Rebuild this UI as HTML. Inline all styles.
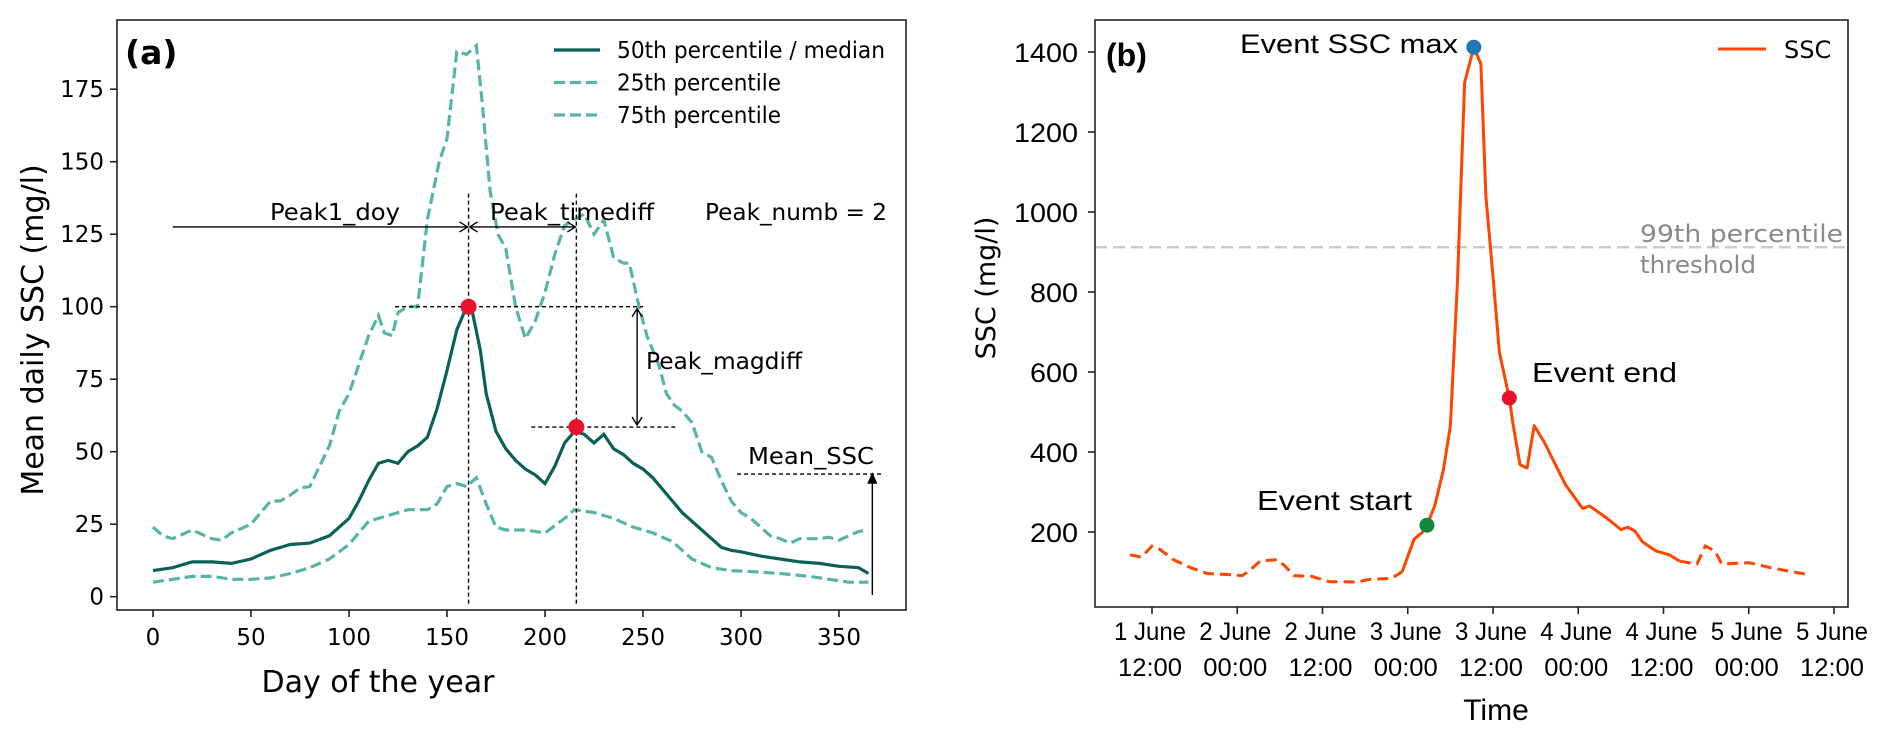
<!DOCTYPE html>
<html><head><meta charset="utf-8"><style>
html,body{margin:0;padding:0;background:#fff;}
svg{display:block;}
.dv{font-family:"DejaVu Sans","Liberation Sans",sans-serif;}
.ls{font-family:"Liberation Sans",sans-serif;}
</style></head><body>
<svg id="fig" width="1892" height="737" viewBox="0 0 1892 737" xmlns="http://www.w3.org/2000/svg">
<g id="pa"></g>
<g id="pb"></g>
</svg>
<script>
// ---------- Panel (a) data ----------
const daysMed = [0,10,20,30,40,50,60,70,80,90,100,105,110,115,120,125,130,135,140,145,150,155,160,163,167,170,175,180,185,190,195,200,205,210,215,220,225,230,235,240,245,250,255,260,265,270,275,280,285,290,295,300,310,320,330,340,350,360,365];
const medVals = [9,10,12,12,11.5,13,16,18,18.5,21,27,33,40,46,47,46,50,52,55,65,78,92,100,98,85,70,57,51,47,44,42,39,45,53,57,56,53,56,51,49,46,44,41,37,33,29,26,23,20,17,16,15.5,14,13,12,11.5,10.5,10,8];
const daysP75 = [0,5,10,20,30,35,40,50,60,65,70,75,80,85,90,95,100,105,110,115,118,122,125,130,135,140,143,146,150,155,160,165,168,172,176,180,185,190,195,200,205,210,215,220,225,230,235,240,243,248,252,258,262,266,270,275,280,285,290,295,300,305,310,315,320,325,330,340,345,350,355,360,365];
const p75Vals = [24,21,20,23,20,19.5,22,25,33,33,35,37.5,38,45,52,64,70,80,90,97,91,90,98,100,100,130,140,150,158,188,187,190,170,140,125,120,100,89,95,105,118,128,130,132,125,130,117,115,115,100,90,80,70,66,64,60,50,48,40,33,29,27,24,21,20,18.5,20,20,20.5,19.5,21,22.5,23];
const daysP25 = [0,10,20,30,40,50,60,70,80,90,100,110,120,130,140,145,150,155,160,165,170,175,180,190,200,210,215,225,235,245,255,265,275,285,295,310,320,335,345,355,365];
const p25Vals = [5,6,7,7,6,6,6.5,8,10,13,18,26,28,30,30,32,38,39,38,41,32,24,23,23,22,27,30,29,27,24,22,19,13,10,9,8.5,8,7,6,5,5];
const aYTicks = [0,25,50,75,100,125,150,175];
const aXTicks = [0,50,100,150,200,250,300,350];
const peakDays = [161,216];
const peakVals = [100,58.5];
const meanSSC = 42.3;

// ---------- Panel (b) data ----------
const sscHours = [-3.1,-1.5,0,1,3,5.4,7.8,10.3,12.7,13.7,15.2,17.6,18.6,20,22.5,24.9,28.8,30.8,33.7,35.2,36.9,38.1,38.7,39.8,41,42,43,44,45.3,46.3,47,48,48.9,50.3,50.8,51.8,52.8,53.8,55.2,58.2,60.6,61.6,64,66,67,68,69,70.9,72.8,74.3,76.7,77.9,79.2,80.2,84.1,87,89.4,92.2];
const sscVals = [143,137,165,158,131,111,96,94,91,103,127,131,117,91,89,76,75,82,84,100,182,200,217,265,354,466,827,1323,1412,1370,1039,839,649,535,472,368,360,466,425,318,259,265,235,206,212,202,176,153,143,127,120,165,153,120,123,111,103,94];
const bYTicks = [200,400,600,800,1000,1200,1400];
const bXTickHours = [0,12,24,36,48,60,72,84,96];
const bXTickLine1 = ["1 June","2 June","2 June","3 June","3 June","4 June","4 June","5 June","5 June"];
const bXTickLine2 = ["12:00","00:00","12:00","00:00","12:00","00:00","12:00","00:00","12:00"];
const eventHours = [38.7,45.3,50.3];
const eventVals = [217,1412,535];
const threshold = 912;
const solidStart = 35.2, solidEnd = 74.3;

const NS="http://www.w3.org/2000/svg";
function mk(parent,tag,attrs,text){const e=document.createElementNS(NS,tag);for(const k in attrs)e.setAttribute(k,attrs[k]);if(text!==undefined)e.textContent=text;parent.appendChild(e);return e;}

// ---------- Panel (a) ----------
const pa=document.getElementById('pa');
const AL=117,AT=20,AR=906,AB=610;
const ax=d=>153+d*1.96;
const ay=v=>596.7-v*2.9;
const path=(xs,ys,fx,fy)=>xs.map((x,i)=>(i?'L':'M')+fx(x).toFixed(1)+' '+fy(ys[i]).toFixed(1)).join(' ');

let e;
e=mk(pa,'path',{d:path(daysP75,p75Vals,ax,ay),fill:'none',stroke:'#56b4a8','stroke-width':3.2,'stroke-dasharray':'11,5'});

e=mk(pa,'path',{d:path(daysP25,p25Vals,ax,ay),fill:'none',stroke:'#56b4a8','stroke-width':3.2,'stroke-dasharray':'11,5'});

e=mk(pa,'path',{d:path(daysMed,medVals,ax,ay),fill:'none',stroke:'#0b6157','stroke-width':3.2});


// annotation lines
const ann=mk(pa,'g',{stroke:'#000','stroke-width':1.4,fill:'none'});

mk(ann,'line',{x1:ax(peakDays[0]),y1:ay(139),x2:ax(peakDays[0]),y2:AB-4,'stroke-dasharray':'4,3'});
mk(ann,'line',{x1:ax(peakDays[1]),y1:ay(139),x2:ax(peakDays[1]),y2:AB-4,'stroke-dasharray':'4,3'});
mk(ann,'line',{x1:ax(123.5),y1:ay(peakVals[0]),x2:ax(250),y2:ay(peakVals[0]),'stroke-dasharray':'4,3'});
mk(ann,'line',{x1:ax(193),y1:ay(peakVals[1]),x2:ax(267),y2:ay(peakVals[1]),'stroke-dasharray':'4,3'});
mk(ann,'line',{x1:ax(298),y1:ay(meanSSC),x2:ax(372),y2:ay(meanSSC),'stroke-dasharray':'4,3'});
function arrowHead(g,x,y,dir){
  const s=8,w=5;let d;
  if(dir==='r')d=`M${x-s} ${y-w} L${x} ${y} L${x-s} ${y+w}`;
  if(dir==='l')d=`M${x+s} ${y-w} L${x} ${y} L${x+s} ${y+w}`;
  if(dir==='u')d=`M${x-w} ${y+s} L${x} ${y} L${x+w} ${y+s}`;
  if(dir==='d')d=`M${x-w} ${y-s} L${x} ${y} L${x+w} ${y-s}`;
  mk(g,'path',{d:d,fill:'none'});
}
const yArr=ay(127.5);
mk(ann,'line',{x1:ax(10),y1:yArr,x2:ax(peakDays[0])-1,y2:yArr});
arrowHead(ann,ax(peakDays[0])-1,yArr,'r');
mk(ann,'line',{x1:ax(peakDays[0])+1,y1:yArr,x2:ax(peakDays[1])-1,y2:yArr});
arrowHead(ann,ax(peakDays[0])+1,yArr,'l');arrowHead(ann,ax(peakDays[1])-1,yArr,'r');
const xm=ax(247);
mk(ann,'line',{x1:xm,y1:ay(peakVals[0])+2,x2:xm,y2:ay(peakVals[1])-2});
arrowHead(ann,xm,ay(peakVals[0])+2,'u');arrowHead(ann,xm,ay(peakVals[1])-2,'d');
const xs=ax(367);
mk(ann,'line',{x1:xs,y1:ay(0.6),x2:xs,y2:ay(meanSSC)});
mk(ann,'path',{d:`M${xs-4} ${ay(meanSSC)+9} L${xs} ${ay(meanSSC)} L${xs+4} ${ay(meanSSC)+9} Z`,fill:'#000'});

peakDays.forEach((d,i)=>{
  const c=mk(pa,'circle',{cx:ax(d),cy:ay(peakVals[i]),r:8,fill:'#e8132b'});
  
  
});

const txtA=[['Peak1_doy',270,220,'peak1-doy-label',130],['Peak_timediff',490,220,'peak-timediff-label',164],['Peak_numb = 2',705,220,'peak-numb-label',182],['Peak_magdiff',646,369,'peak-magdiff-label',156],['Mean_SSC',748,464,'mean-ssc-label',126]];
txtA.forEach(t=>{
  const el=mk(pa,'text',{x:t[1],y:t[2],'font-size':23,class:'dv',fill:'#000',textLength:t[4],lengthAdjust:'spacingAndGlyphs'},t[0]);
  
  
});

// axes a
e=mk(pa,'rect',{x:AL,y:AT,width:AR-AL,height:AB-AT,fill:'none',stroke:'#222','stroke-width':1.6});

aYTicks.forEach(v=>{
  mk(pa,'line',{x1:AL-7,y1:ay(v),x2:AL,y2:ay(v),stroke:'#222','stroke-width':1.6});
  const t=mk(pa,'text',{x:AL-13,y:ay(v)+8,'font-size':23,class:'dv','text-anchor':'end'},String(v));
  
  
});
aXTicks.forEach(v=>{
  mk(pa,'line',{x1:ax(v),y1:AB,x2:ax(v),y2:AB+7,stroke:'#222','stroke-width':1.6});
  const t=mk(pa,'text',{x:ax(v),y:645,'font-size':23,class:'dv','text-anchor':'middle'},String(v));
  
  
});
e=mk(pa,'text',{x:0,y:0,'font-size':30,class:'dv','text-anchor':'middle',transform:'translate(43,330) rotate(-90)'},'Mean daily SSC (mg/l)');

e=mk(pa,'text',{x:378,y:692,'font-size':30,class:'dv','text-anchor':'middle'},'Day of the year');

e=mk(pa,'text',{x:125,y:64,'font-size':33,'font-weight':'bold',class:'dv'},'(a)');

// legend a
const legA=[['50th percentile / median','#0b6157','',268],['25th percentile','#56b4a8','11,5',164],['75th percentile','#56b4a8','11,5',164]];
legA.forEach((l,i)=>{
  const g=mk(pa,'g',{});
  
  
  const y=50+i*32.5;
  mk(g,'line',{x1:554,y1:y,x2:600,y2:y,stroke:l[1],'stroke-width':3.2,'stroke-dasharray':l[2]||'none'});
  mk(g,'text',{x:617,y:y+8,'font-size':23,class:'dv',textLength:l[3],lengthAdjust:'spacingAndGlyphs'},l[0]);
});

// ---------- Panel (b) ----------
const pb=document.getElementById('pb');
const BL=1095,BT=20,BR=1848,BB=607;
const bx=h=>1152+h*85.25/12;
const by=v=>52+(1400-v)*0.4;
e=mk(pb,'line',{x1:BL,y1:by(threshold),x2:BR,y2:by(threshold),stroke:'#cccccc','stroke-width':2.5,'stroke-dasharray':'12,6'});

e=mk(pb,'text',{x:1640,y:242,'font-size':24,class:'dv',fill:'#8a8a8a',textLength:203,lengthAdjust:'spacingAndGlyphs'},'99th percentile');

e=mk(pb,'text',{x:1640,y:273,'font-size':24,class:'dv',fill:'#8a8a8a',textLength:116,lengthAdjust:'spacingAndGlyphs'},'threshold');


const idxBefore=[],idxMid=[],idxAfter=[];
sscHours.forEach((h,i)=>{ if(h<=solidStart) idxBefore.push(i); if(h>=solidStart&&h<=solidEnd) idxMid.push(i); if(h>=solidEnd) idxAfter.push(i);});
const sub=idx=>idx.map((i,k)=>(k?'L':'M')+bx(sscHours[i]).toFixed(1)+' '+by(sscVals[i]).toFixed(1)).join(' ');
e=mk(pb,'path',{d:sub(idxBefore),fill:'none',stroke:'#ff4500','stroke-width':3,'stroke-dasharray':'11,6'});

e=mk(pb,'path',{d:sub(idxMid),fill:'none',stroke:'#ff4500','stroke-width':3,'stroke-linejoin':'round'});

e=mk(pb,'path',{d:sub(idxAfter),fill:'none',stroke:'#ff4500','stroke-width':3,'stroke-dasharray':'11,6'});


const evColors=['#0f8a3c','#1f77b4','#e8132b'];
const evNames=['event-start-marker','event-max-marker','event-end-marker'];
eventHours.forEach((h,i)=>{
  const c=mk(pb,'circle',{cx:bx(h),cy:by(eventVals[i]),r:7.5,fill:evColors[i]});
  
  
});
e=mk(pb,'text',{x:1458,y:53,'font-size':27,class:'ls','text-anchor':'end',textLength:218,lengthAdjust:'spacingAndGlyphs'},'Event SSC max');

e=mk(pb,'text',{x:1257,y:510,'font-size':28,class:'ls',textLength:155,lengthAdjust:'spacingAndGlyphs'},'Event start');

e=mk(pb,'text',{x:1532,y:382,'font-size':28,class:'ls',textLength:145,lengthAdjust:'spacingAndGlyphs'},'Event end');


e=mk(pb,'rect',{x:BL,y:BT,width:BR-BL,height:BB-BT,fill:'none',stroke:'#222','stroke-width':1.6});

bYTicks.forEach(v=>{
  mk(pb,'line',{x1:BL-7,y1:by(v),x2:BL,y2:by(v),stroke:'#222','stroke-width':1.6});
  const t=mk(pb,'text',{x:1078,y:by(v)+10,'font-size':27,class:'ls','text-anchor':'end',textLength:v>=1000?64:48,lengthAdjust:'spacingAndGlyphs'},String(v));
  
  
});
bXTickHours.forEach((h,i)=>{
  mk(pb,'line',{x1:bx(h),y1:BB,x2:bx(h),y2:BB+7,stroke:'#222','stroke-width':1.6});
  const t1=mk(pb,'text',{x:bx(h)-2,y:640,'font-size':25,class:'ls','text-anchor':'middle',textLength:72,lengthAdjust:'spacingAndGlyphs'},bXTickLine1[i]);
  
  
  const t2=mk(pb,'text',{x:bx(h)-2,y:676,'font-size':25,class:'ls','text-anchor':'middle',textLength:64,lengthAdjust:'spacingAndGlyphs'},bXTickLine2[i]);
  
  
});
e=mk(pb,'text',{x:0,y:0,'font-size':27,class:'dv','text-anchor':'middle',transform:'translate(995,288) rotate(-90)'},'SSC (mg/l)');

e=mk(pb,'text',{x:1496,y:720,'font-size':30,class:'ls','text-anchor':'middle'},'Time');

e=mk(pb,'text',{x:1106,y:66,'font-size':32,'font-weight':'bold',class:'ls'},'(b)');

const lg=mk(pb,'g',{});


mk(lg,'line',{x1:1718,y1:49,x2:1766,y2:49,stroke:'#ff4500','stroke-width':3});
mk(lg,'text',{x:1784,y:58,'font-size':24,class:'dv'},'SSC');
</script>
</body></html>
